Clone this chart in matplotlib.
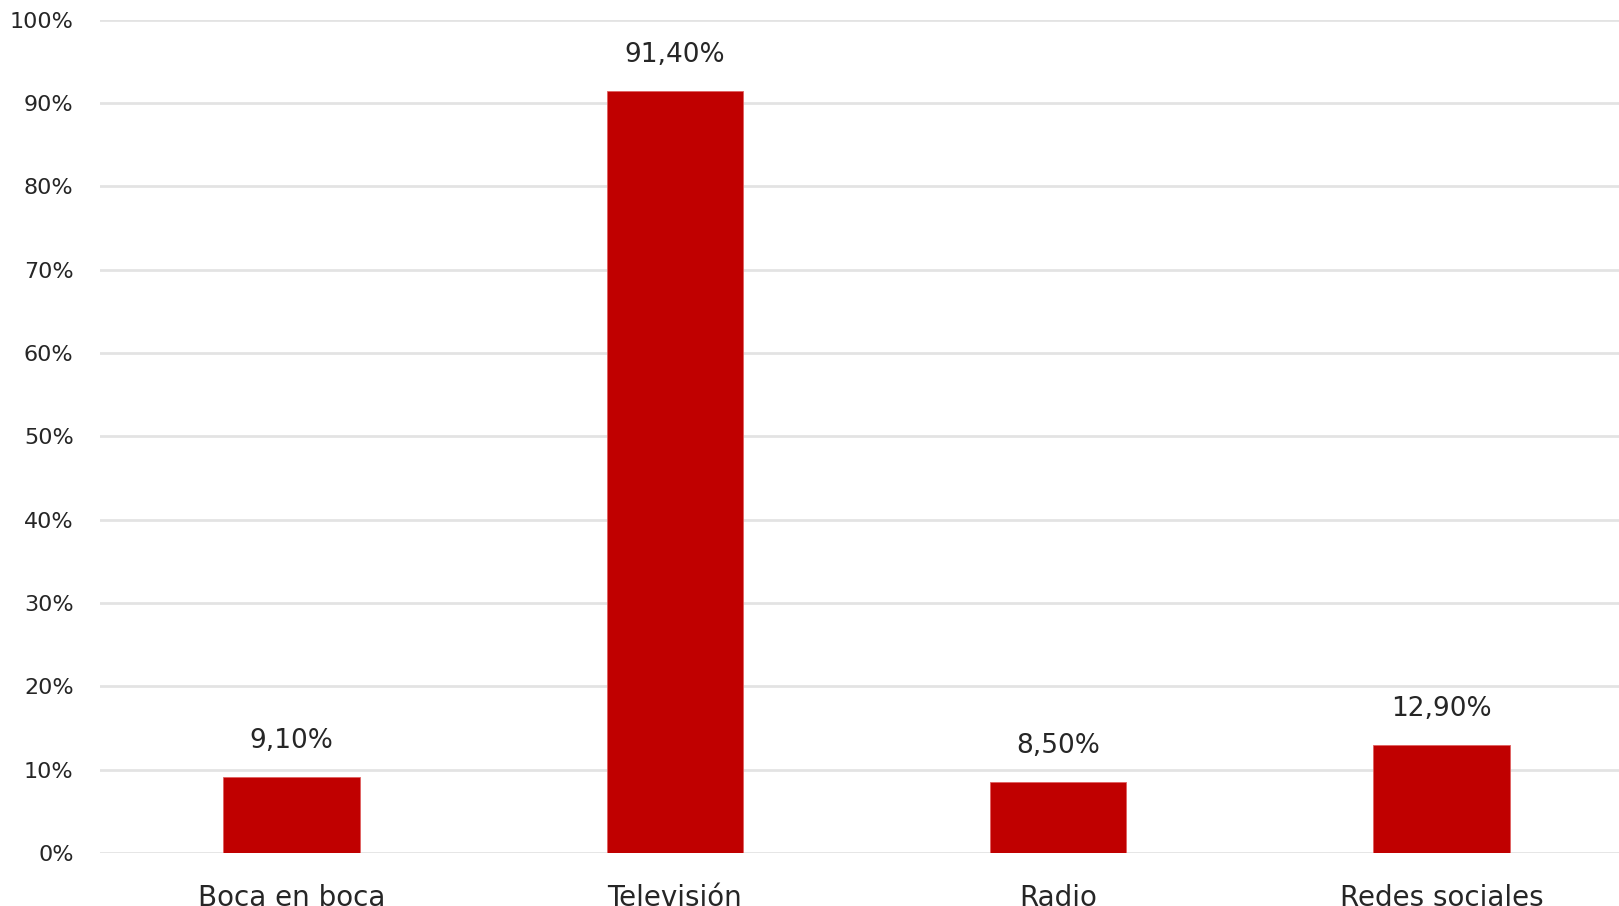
import matplotlib.pyplot as plt
from matplotlib.ticker import FuncFormatter

categorias = ['Boca en boca', 'Televisión', 'Radio', 'Redes sociales']
valores = [9.1, 91.4, 8.5, 12.9]
etiquetas = ['9,10%', '91,40%', '8,50%', '12,90%']
ticks_y = [0, 10, 20, 30, 40, 50, 60, 70, 80, 90, 100]

fig = plt.figure(figsize=(16.19, 9.06), dpi=100)
# el eje se sale un poco por la derecha, como en la imagen original
ax = fig.add_axes([100 / 1619, 1 - 853 / 906, 1533 / 1619, (853 - 19.6) / 906])

x = range(len(categorias))
ax.bar(x, valores, width=0.356, color='#c00000', edgecolor='#e06060', linewidth=0.6, zorder=3)

for i, v in enumerate(valores):
    ax.text(i, v + 2.8, etiquetas[i], ha='center', va='bottom', fontsize=19, color='#262626')

ax.set_xlim(-0.5, 3.5)
ax.set_ylim(0, 100)
ax.set_yticks(ticks_y)
ax.yaxis.set_major_formatter(FuncFormatter(lambda v, p: f'{int(v)}%'))
ax.set_xticks(list(x))
ax.set_xticklabels(categorias, fontsize=20, color='#262626')
ax.tick_params(axis='x', length=0, pad=22)
ax.tick_params(axis='y', length=0, pad=19, labelsize=16, labelcolor='#262626')
ax.grid(axis='y', color='#e3e3e3', linewidth=2, zorder=0)
for s in ax.spines.values():
    s.set_visible(False)

fig.savefig('out.png', dpi=100)
